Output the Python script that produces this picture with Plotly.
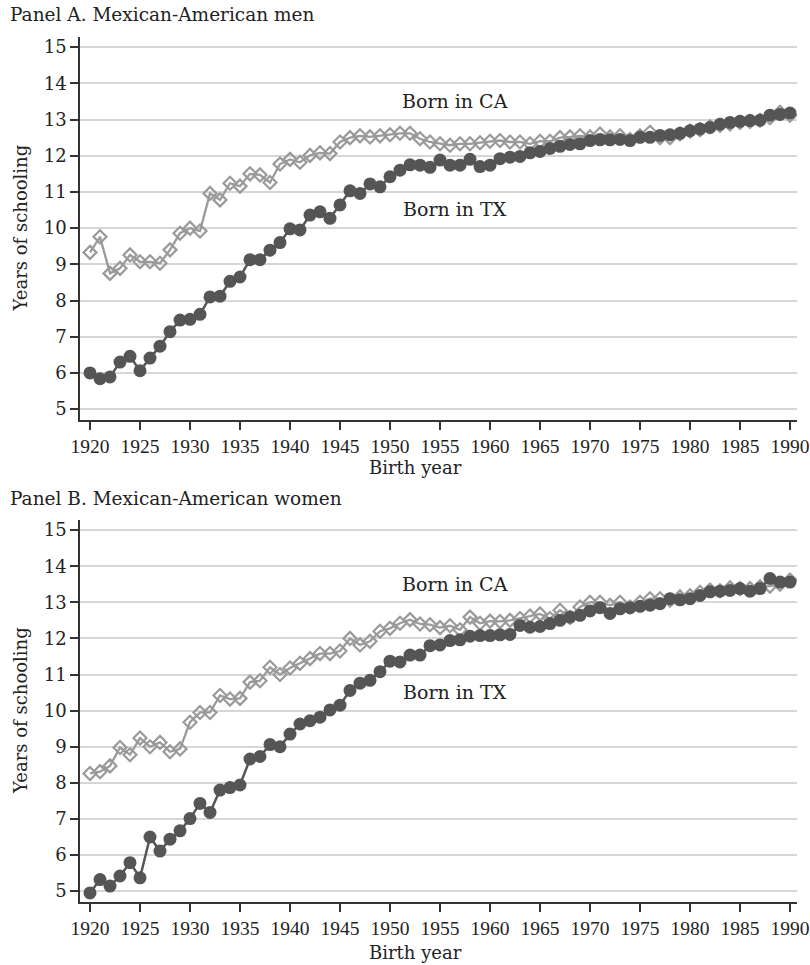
import plotly.graph_objects as go

years = list(range(1920, 1991))

men_ca = [9.33, 9.76, 8.75, 8.89, 9.26, 9.07, 9.07, 9.03, 9.40, 9.86,
          10.00, 9.92, 10.96, 10.78, 11.24, 11.16, 11.50, 11.47, 11.26, 11.77,
          11.90, 11.82, 12.01, 12.08, 12.06, 12.38, 12.50, 12.55, 12.52, 12.55,
          12.58, 12.62, 12.62, 12.47, 12.38, 12.33, 12.29, 12.33, 12.33, 12.36,
          12.40, 12.42, 12.38, 12.38, 12.33, 12.40, 12.40, 12.50, 12.52, 12.55,
          12.52, 12.60, 12.52, 12.55, 12.45, 12.55, 12.65, 12.50, 12.50, 12.60,
          12.68, 12.72, 12.80, 12.84, 12.88, 12.92, 12.95, 12.98, 13.05, 13.20, 13.12]

men_tx = [6.00, 5.84, 5.89, 6.30, 6.46, 6.06, 6.41, 6.74, 7.14, 7.46,
          7.48, 7.62, 8.10, 8.12, 8.53, 8.65, 9.13, 9.13, 9.39, 9.60,
          9.98, 9.95, 10.36, 10.45, 10.27, 10.64, 11.03, 10.96, 11.22, 11.14,
          11.42, 11.60, 11.75, 11.74, 11.68, 11.88, 11.74, 11.74, 11.90, 11.70,
          11.74, 11.92, 11.96, 11.98, 12.08, 12.12, 12.20, 12.26, 12.31, 12.33,
          12.42, 12.44, 12.44, 12.45, 12.42, 12.51, 12.51, 12.56, 12.58, 12.62,
          12.69, 12.74, 12.78, 12.87, 12.92, 12.95, 12.97, 12.98, 13.12, 13.14, 13.18]

women_ca = [8.26, 8.31, 8.47, 8.98, 8.78, 9.24, 9.00, 9.12, 8.86, 8.94,
            9.68, 9.95, 9.95, 10.42, 10.32, 10.34, 10.79, 10.83, 11.20, 11.00,
            11.18, 11.31, 11.44, 11.58, 11.58, 11.65, 12.00, 11.82, 11.92, 12.20,
            12.28, 12.42, 12.52, 12.40, 12.38, 12.30, 12.35, 12.24, 12.59, 12.42,
            12.48, 12.47, 12.50, 12.55, 12.62, 12.68, 12.55, 12.78, 12.58, 12.87,
            13.00, 13.00, 12.92, 13.00, 12.87, 13.00, 13.10, 13.10, 13.06, 13.15,
            13.18, 13.28, 13.34, 13.32, 13.40, 13.38, 13.38, 13.43, 13.45, 13.50, 13.62]

women_tx = [4.95, 5.32, 5.14, 5.42, 5.79, 5.37, 6.50, 6.11, 6.44, 6.67,
            7.01, 7.43, 7.18, 7.80, 7.87, 7.94, 8.66, 8.73, 9.06, 9.00,
            9.35, 9.63, 9.72, 9.82, 10.02, 10.15, 10.56, 10.76, 10.84, 11.08,
            11.37, 11.35, 11.54, 11.54, 11.80, 11.82, 11.94, 11.96, 12.06, 12.08,
            12.08, 12.10, 12.11, 12.36, 12.31, 12.33, 12.41, 12.50, 12.59, 12.64,
            12.76, 12.85, 12.69, 12.82, 12.85, 12.89, 12.92, 12.96, 13.10, 13.07,
            13.10, 13.19, 13.29, 13.31, 13.33, 13.38, 13.31, 13.38, 13.66, 13.56, 13.56]

x_ticks = [1920, 1925, 1930, 1935, 1940, 1945, 1950, 1955, 1960, 1965, 1970, 1975, 1980, 1985, 1990]
y_ticks = [5, 6, 7, 8, 9, 10, 11, 12, 13, 14, 15]

panel_titles = ["Panel A. Mexican-American men", "Panel B. Mexican-American women"]
label_ca = "Born in CA"
label_tx = "Born in TX"
x_title = "Birth year"
y_title = "Years of schooling"

FONT = "DejaVu Serif"
XFONT = "Liberation Serif"
TXT = "#222222"
CA_COL = "#9a9a9a"
TX_COL = "#555555"

fig = go.Figure()

panels = [(men_ca, men_tx, "x", "y"), (women_ca, women_tx, "x2", "y2")]
for ca, tx, xa, ya in panels:
    fig.add_trace(go.Scatter(x=years, y=ca, xaxis=xa, yaxis=ya, mode="lines+markers",
                             line=dict(color=CA_COL, width=2.3),
                             marker=dict(symbol="diamond-open", size=10, color=CA_COL,
                                         line=dict(width=2.2, color=CA_COL)),
                             showlegend=False, hoverinfo="skip"))
    fig.add_trace(go.Scatter(x=years, y=tx, xaxis=xa, yaxis=ya, mode="lines+markers",
                             line=dict(color=TX_COL, width=2.5),
                             marker=dict(symbol="circle", size=13, color=TX_COL),
                             showlegend=False, hoverinfo="skip"))

# paper mapping: plot area x 80..797 px, y 37..902 px
def px_x(p):
    return (p - 80) / 717.0

def px_y(p):
    return (902 - p) / 865.0

dom_a = [px_y(420), 1.0]
dom_b = [0.0, px_y(520)]

xcommon = dict(range=[1919, 1990.7], tickvals=x_ticks, ticks="outside", ticklen=8,
               tickwidth=1.5, tickcolor="#333333", showline=True, linecolor="#333333",
               linewidth=1.5, showgrid=False, zeroline=False, automargin=False,
               tickfont=dict(family=XFONT, size=19.5, color=TXT))
ycommon = dict(range=[4.7, 15.28], tickvals=y_ticks, ticks="outside", ticklen=8,
               tickwidth=1.5, tickcolor="#333333", showline=True, linecolor="#333333",
               linewidth=1.5, showgrid=True, gridcolor="#d6d6d6", gridwidth=1.5,
               zeroline=False, automargin=False, tickfont=dict(family=FONT, size=18, color=TXT))

fig.update_layout(
    width=810, height=965,
    margin=dict(l=80, r=13, t=37, b=63, autoexpand=False),
    paper_bgcolor="white", plot_bgcolor="white",
    xaxis=dict(domain=[0, 1], anchor="y", **xcommon),
    yaxis=dict(domain=dom_a, anchor="x", **ycommon),
    xaxis2=dict(domain=[0, 1], anchor="y2", **xcommon),
    yaxis2=dict(domain=dom_b, anchor="x2", **ycommon),
)

ann = []
title_y = [px_y(15), px_y(498)]
ytitle_y = [px_y(228.5), px_y(711)]
xtitle_y = [px_y(467), px_y(953)]
for i, (xa, ya) in enumerate([("x", "y"), ("x2", "y2")]):
    ann.append(dict(text=panel_titles[i], xref="paper", yref="paper", x=px_x(8), y=title_y[i],
                    xanchor="left", yanchor="middle", showarrow=False,
                    font=dict(family=FONT, size=18.5, color=TXT)))
    ann.append(dict(text=y_title, xref="paper", yref="paper", x=px_x(20), y=ytitle_y[i],
                    xanchor="center", yanchor="middle", textangle=-90, showarrow=False,
                    font=dict(family=FONT, size=18, color=TXT)))
    ann.append(dict(text=x_title, xref="paper", yref="paper", x=px_x(415), y=xtitle_y[i],
                    xanchor="center", yanchor="middle", showarrow=False,
                    font=dict(family=FONT, size=18, color=TXT)))
    ann.append(dict(text=label_ca, xref=xa, yref=ya, x=1956.5, y=13.5,
                    xanchor="center", yanchor="middle", showarrow=False,
                    font=dict(family=FONT, size=19, color=TXT)))
    ann.append(dict(text=label_tx, xref=xa, yref=ya, x=1956.5, y=10.53,
                    xanchor="center", yanchor="middle", showarrow=False,
                    font=dict(family=FONT, size=19, color=TXT)))
fig.update_layout(annotations=ann)

fig.write_html("out.html", config={"displayModeBar": False},
               post_script="document.body.style.margin='0';document.body.style.padding='0';document.body.style.overflow='hidden';")
